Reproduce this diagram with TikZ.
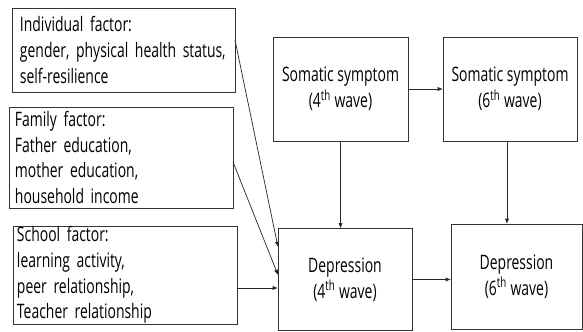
\documentclass[tikz,border=0pt]{standalone}
\usepackage{fontspec}
\setmainfont{Open Sans}[FakeStretch=0.7]
\usetikzlibrary{calc,arrows.meta}
\definecolor{boxline}{gray}{0.2}
\definecolor{arrline}{gray}{0.15}

\begin{document}
\begin{tikzpicture}[x=0.03cm,y=-0.03cm,
  factorbox/.style={draw=boxline,line width=0.8pt,outer sep=0pt,inner ysep=0pt,align=left,font=\fontsize{17}{22}\selectfont},
  wavebox/.style={draw=boxline,line width=0.8pt,outer sep=0pt,align=center,font=\fontsize{17}{22}\selectfont},
  arr/.style={draw=arrline,line width=0.6pt,-{Latex[length=4.5pt,width=3.5pt]}}]
			\useasboundingbox (0,0) rectangle (583,331);
			% factor boxes
			\node[factorbox,inner xsep=0.24cm,text width=6.21cm,minimum height=2.52cm] (ind) at (123.5,50) {Individual factor:\\gender, physical health status,\\self-resilience};
			\node[factorbox,inner xsep=0.18cm,text width=6.36cm,minimum height=3.03cm] (fam) at (121,157.5) {Family factor:\\Father education,\\mother education,\\household income};
			\node[factorbox,inner xsep=0.12cm,text width=6.48cm,minimum height=2.94cm] (sch) at (125,275) {School factor:\\learning activity,\\peer relationship,\\Teacher relationship};
			% wave boxes
			\node[wavebox,minimum width=4.05cm,minimum height=3.12cm] (s4) at (340.5,89) {Somatic symptom\\(4\textsuperscript{th} wave)};
			\node[wavebox,minimum width=4.02cm,minimum height=3.12cm] (s6) at (510,89) {Somatic symptom\\(6\textsuperscript{th} wave)};
			\node[wavebox,minimum width=4.02cm,minimum height=3.06cm] (d4) at (345,279.5) {Depression\\(4\textsuperscript{th} wave)};
			\node[wavebox,minimum width=3.93cm,minimum height=3.15cm] (d6) at (516.5,276.5) {Depression\\(6\textsuperscript{th} wave)};
			% paths
			\coordinate (schout) at ($(sch.east)+(0,13)$);
			\draw[arr] ($(ind.east)+(0,-10)$) -- ($(d4.west)+(0,-32.5)$);
			\draw[arr] ($(fam.east)+(0,4.5)$) -- ($(d4.west)+(0,-4.5)$);
			\draw[arr] (schout) -- (schout -| d4.west);
			\draw[arr] (s4.east) -- (s4.east -| s6.west);
			\draw[arr] (s4.south) -- (s4.south |- d4.north);
			\draw[arr] ([xshift=-0.09cm]s6.south) -- ([xshift=-0.09cm]s6.south |- d6.north);
			\draw[arr] (d4.east) -- (d4.east -| d6.west);
		\end{tikzpicture}
\end{document}
